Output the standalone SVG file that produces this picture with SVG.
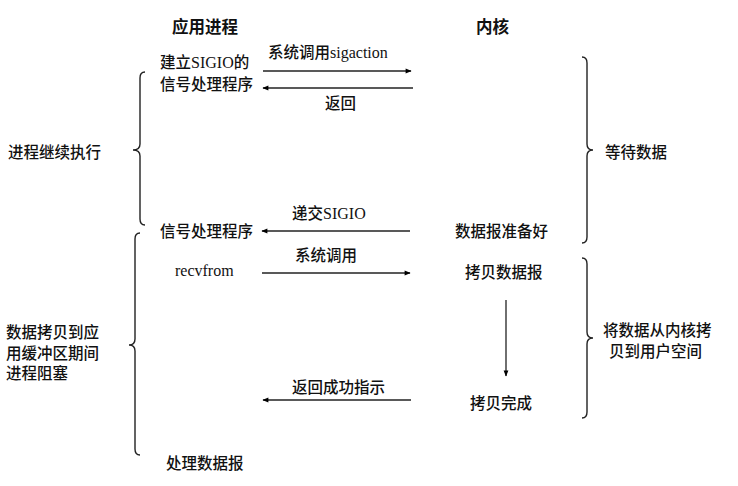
<svg xmlns="http://www.w3.org/2000/svg" width="738" height="486" viewBox="0 0 738 486">
<defs>
<marker id="ah" viewBox="0 0 10 10" refX="9" refY="5" markerWidth="7" markerHeight="6" orient="auto" markerUnits="userSpaceOnUse">
<path d="M0,1 L10,5 L0,9 Z" fill="#000"/>
</marker>
<style>
text{font-family:"Noto Sans CJK SC","Noto Sans",sans-serif;font-size:15.5px;font-weight:500;fill:#111}
.h{font-weight:bold;font-size:16.5px}
tspan.l,text.l{font-family:"Liberation Serif",serif;font-size:16px;font-weight:normal}
.ln{stroke:#222;stroke-width:1.3;fill:none}
.br{stroke:#222;stroke-width:1.4;fill:none}
</style>
</defs>
<rect width="738" height="486" fill="#fff"/>
<g id="headers">
<text class="h" x="172" y="33">应用进程</text>
<text class="h" x="476" y="33">内核</text>
</g>
<g id="node-setup">
<text x="160" y="68">建立<tspan class="l">SIGIO</tspan>的</text>
<text x="160" y="90">信号处理程序</text>
</g>
<g id="node-handler">
<text x="160" y="237">信号处理程序</text>
</g>
<g id="node-recvfrom">
<text class="l" x="175" y="276">recvfrom</text>
</g>
<g id="node-process">
<text x="166" y="469">处理数据报</text>
</g>
<g id="node-ready">
<text x="455" y="237">数据报准备好</text>
</g>
<g id="node-copy">
<text x="465" y="278">拷贝数据报</text>
</g>
<g id="node-done">
<text x="470" y="409">拷贝完成</text>
</g>
<g id="left-labels">
<text x="8" y="158">进程继续执行</text>
<text x="6" y="338">数据拷贝到应</text>
<text x="6" y="359">用缓冲区期间</text>
<text x="6" y="379">进程阻塞</text>
</g>
<g id="right-labels">
<text x="605" y="158">等待数据</text>
<text x="603" y="336">将数据从内核拷</text>
<text x="609" y="357">贝到用户空间</text>
</g>
<g id="braces">
<path class="br" d="M145,72 Q140,72 140,78 L140,144 Q140,150 133,150 Q140,150 140,156 L140,219 Q140,225 145,225"/>
<path class="br" d="M140,233 Q135,233 135,239 L135,339 Q135,345 129,345 Q135,345 135,351 L135,449 Q135,455 140,455"/>
<path class="br" d="M582,57 Q587,57 587,63 L587,144 Q587,150 593,150 Q587,150 587,156 L587,237 Q587,243 582,243"/>
<path class="br" d="M582,258 Q587,258 587,264 L587,332 Q587,338 593,338 Q587,338 587,344 L587,412 Q587,418 582,418"/>
</g>
<g id="connectors">
<line class="ln" x1="263" y1="71" x2="411" y2="71" marker-end="url(#ah)"/>
<text x="268" y="58">系统调用<tspan class="l">sigaction</tspan></text>
<line class="ln" x1="413" y1="88" x2="263" y2="88" marker-end="url(#ah)"/>
<text x="325" y="109">返回</text>
<line class="ln" x1="410" y1="231" x2="262" y2="231" marker-end="url(#ah)"/>
<text x="292" y="219">递交<tspan class="l">SIGIO</tspan></text>
<line class="ln" x1="262" y1="273" x2="410" y2="273" marker-end="url(#ah)"/>
<text x="295" y="261">系统调用</text>
<line class="ln" x1="506" y1="300" x2="506" y2="376" marker-end="url(#ah)"/>
<line class="ln" x1="411" y1="400" x2="263" y2="400" marker-end="url(#ah)"/>
<text x="292" y="393">返回成功指示</text>
</g>
</svg>
